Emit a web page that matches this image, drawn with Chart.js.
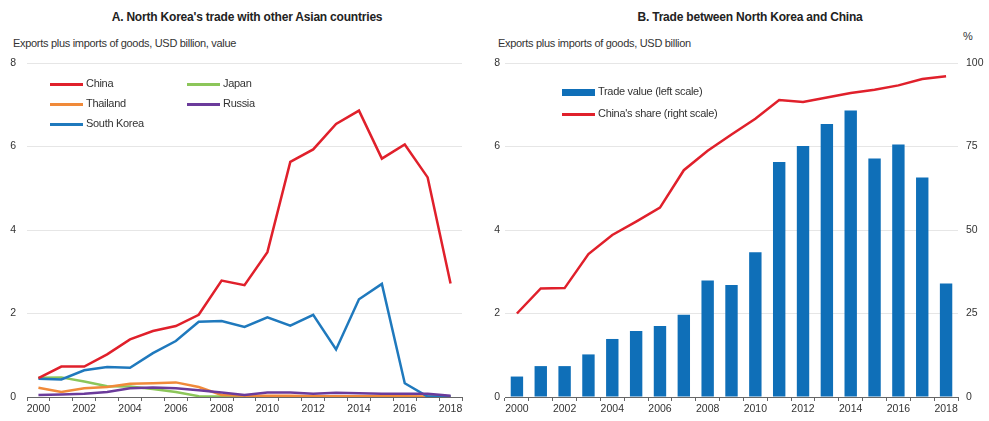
<!DOCTYPE html>
<html>
<head>
<meta charset="utf-8">
<script src="https://cdn.jsdelivr.net/npm/chart.js@4"></script>
<style>
    body { margin: 0; background: #fff; font-family: "Liberation Sans", Arial, sans-serif; color: #222; }
    #wrap { position: relative; width: 989px; height: 421px; overflow: hidden; }
    .title { position: absolute; top: 10px; font-size: 12px; letter-spacing: -0.2px; font-weight: bold; text-align: center; white-space: nowrap; }
    .sub { position: absolute; top: 37px; font-size: 11px; letter-spacing: -0.3px; white-space: nowrap; color: #333; }
    canvas { position: absolute; top: 0; }
    .legend { position: absolute; font-size: 11px; letter-spacing: -0.3px; color: #333; }
    .legend .item { position: absolute; white-space: nowrap; line-height: 14px; }
    .legend .key { display: inline-block; width: 33px; height: 3px; vertical-align: middle; margin-right: 3px; }
</style>
</head>
<body>
<div id="wrap">
    <div class="title" style="left:0; width:494px;">A. North Korea's trade with other Asian countries</div>
    <div class="sub" style="left:13px;">Exports plus imports of goods, USD billion, value</div>
    <div class="title" style="left:500px; width:500px;">B. Trade between North Korea and China</div>
    <div class="sub" style="left:498px;">Exports plus imports of goods, USD billion</div>
    <div class="sub" style="left:963px; top:30px;">%</div>

    <canvas id="chartA" width="490" height="421" style="left:0;"></canvas>
    <canvas id="chartB" width="501" height="421" style="left:488px;"></canvas>

    <div class="legend" id="legendA"></div>
    <div class="legend" id="legendB"></div>
</div>

<script>
// Years on the x axis
const years = ['2000', '2001', '2002', '2003', '2004', '2005', '2006', '2007', '2008', '2009',
               '2010', '2011', '2012', '2013', '2014', '2015', '2016', '2017', '2018'];

// Panel A: trade with North Korea, USD billion
const china      = [0.45, 0.73, 0.73, 1.02, 1.38, 1.58, 1.70, 1.97, 2.79, 2.68, 3.47, 5.63, 5.93, 6.54, 6.86, 5.71, 6.05, 5.26, 2.72];
const japan      = [0.46, 0.47, 0.37, 0.26, 0.25, 0.19, 0.12, 0.02, 0.01, 0.00, 0.00, 0.00, 0.00, 0.00, 0.00, 0.00, 0.00, 0.00, 0.00];
const thailand   = [0.22, 0.12, 0.21, 0.24, 0.32, 0.33, 0.35, 0.24, 0.05, 0.03, 0.03, 0.03, 0.02, 0.02, 0.02, 0.02, 0.02, 0.01, 0.01];
const russia     = [0.05, 0.06, 0.08, 0.12, 0.21, 0.23, 0.21, 0.16, 0.11, 0.05, 0.11, 0.11, 0.08, 0.10, 0.09, 0.08, 0.08, 0.08, 0.03];
const southKorea = [0.44, 0.42, 0.64, 0.72, 0.70, 1.05, 1.34, 1.80, 1.82, 1.68, 1.91, 1.71, 1.97, 1.14, 2.34, 2.71, 0.33, 0.01, 0.02];

// Panel B: trade value with China (USD billion) and China's share (%)
const tradeValue = [0.49, 0.74, 0.74, 1.02, 1.39, 1.58, 1.70, 1.97, 2.79, 2.68, 3.47, 5.63, 6.01, 6.54, 6.86, 5.71, 6.05, 5.26, 2.72];
const chinaShare = [25.0, 32.5, 32.6, 42.8, 48.5, 52.5, 56.7, 67.9, 73.7, 78.6, 83.3, 88.9, 88.3, 89.7, 91.0, 92.0, 93.3, 95.2, 96.0];

// Tick values
const leftTicks = [0, 2, 4, 6, 8];
const rightTicks = [0, 25, 50, 75, 100];

const seriesA = [
    { label: 'China', data: china, color: '#e0202b' },
    { label: 'Japan', data: japan, color: '#8cc65a' },
    { label: 'Thailand', data: thailand, color: '#f08a3a' },
    { label: 'Russia', data: russia, color: '#6b3b9b' },
    { label: 'South Korea', data: southKorea, color: '#1f79bd' }
];

Chart.defaults.font.family = '"Liberation Sans", Arial, sans-serif';
Chart.defaults.font.size = 10.5;
Chart.defaults.color = '#333';

const gridColor = '#e6e6e6';
const axisColor = '#666';

function evenYearLabel(value, index) {
    return index % 2 === 0 ? years[index] : '';
}

// Panel A chart
function initChartA() {
    const ctx = document.getElementById('chartA').getContext('2d');
    // draw order: China on top, small ones at the back
    const order = [0, 3, 2, 1, 1];
    new Chart(ctx, {
        type: 'line',
        data: {
            labels: years,
            datasets: seriesA.map((s, i) => ({
                label: s.label,
                data: s.data,
                borderColor: s.color,
                backgroundColor: s.color,
                borderWidth: 2.5,
                pointRadius: 0,
                tension: 0,
                order: order[i]
            }))
        },
        options: {
            responsive: false,
            animation: false,
            layout: { padding: { top: 63, right: 28, left: 0, bottom: 0 } },
            plugins: { legend: { display: false }, tooltip: { enabled: false } },
            scales: {
                x: {
                    offset: true,
                    grid: { drawOnChartArea: false, drawTicks: true, tickLength: 4, color: axisColor, offset: true },
                    border: { display: true, color: axisColor },
                    ticks: { autoSkip: false, maxRotation: 0, padding: 2, callback: evenYearLabel },
                    afterFit: (scale) => { scale.height = 24; }
                },
                y: {
                    min: 0,
                    max: 8,
                    afterBuildTicks: (scale) => { scale.ticks = leftTicks.map(v => ({ value: v })); },
                    grid: { color: gridColor, drawTicks: false },
                    border: { display: false },
                    ticks: { padding: 11 },
                    afterFit: (scale) => { scale.width = 27; }
                }
            }
        }
    });
}

// Panel B chart
function initChartB() {
    const ctx = document.getElementById('chartB').getContext('2d');
    new Chart(ctx, {
        type: 'bar',
        data: {
            labels: years,
            datasets: [
                {
                    type: 'line',
                    label: "China's share (right scale)",
                    data: chinaShare,
                    yAxisID: 'y2',
                    borderColor: '#e0202b',
                    borderWidth: 2.5,
                    pointRadius: 0,
                    tension: 0,
                    order: 0
                },
                {
                    type: 'bar',
                    label: 'Trade value (left scale)',
                    data: tradeValue,
                    yAxisID: 'y',
                    backgroundColor: '#0f6fb8',
                    categoryPercentage: 1,
                    barPercentage: 0.52,
                    order: 1
                }
            ]
        },
        options: {
            responsive: false,
            animation: false,
            layout: { padding: { top: 63, right: 0, left: 0, bottom: 0 } },
            plugins: { legend: { display: false }, tooltip: { enabled: false } },
            scales: {
                x: {
                    grid: { drawOnChartArea: false, drawTicks: true, tickLength: 4, color: axisColor },
                    border: { display: true, color: axisColor },
                    ticks: { autoSkip: false, maxRotation: 0, padding: 2, callback: evenYearLabel },
                    afterFit: (scale) => { scale.height = 24; }
                },
                y: {
                    position: 'left',
                    min: 0,
                    max: 8,
                    afterBuildTicks: (scale) => { scale.ticks = leftTicks.map(v => ({ value: v })); },
                    grid: { color: gridColor, drawTicks: false },
                    border: { display: false },
                    ticks: { padding: 5 },
                    afterFit: (scale) => { scale.width = 17; }
                },
                y2: {
                    position: 'right',
                    min: 0,
                    max: 100,
                    afterBuildTicks: (scale) => { scale.ticks = rightTicks.map(v => ({ value: v })); },
                    grid: { drawOnChartArea: false, drawTicks: false },
                    border: { display: false },
                    ticks: { padding: 8 },
                    afterFit: (scale) => { scale.width = 31; }
                }
            }
        }
    });
}

// HTML legends placed inside the plot areas
function buildLegends() {
    const legendA = document.getElementById('legendA');
    const spots = {
        'China': [50, 76], 'Japan': [187, 76],
        'Thailand': [50, 96], 'Russia': [187, 96],
        'South Korea': [50, 116]
    };
    seriesA.forEach(s => {
        const item = document.createElement('div');
        item.className = 'item';
        item.style.left = spots[s.label][0] + 'px';
        item.style.top = spots[s.label][1] + 'px';
        item.innerHTML = `<span class="key" style="background:${s.color}"></span>${s.label}`;
        legendA.appendChild(item);
    });

    const legendB = document.getElementById('legendB');
    legendB.innerHTML = `
        <div class="item" style="left:562px; top:84px;"><span class="key" style="background:#0f6fb8; height:7px;"></span>Trade value (left scale)</div>
        <div class="item" style="left:562px; top:106px;"><span class="key" style="background:#e0202b;"></span>China's share (right scale)</div>
    `;
}

initChartA();
initChartB();
buildLegends();
</script>
</body>
</html>
